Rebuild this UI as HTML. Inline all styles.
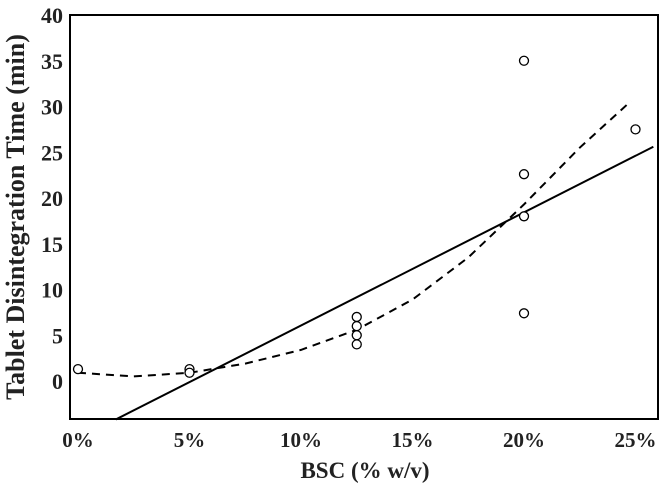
<!DOCTYPE html>
<html><head><meta charset="utf-8"><style>
html,body{margin:0;padding:0;background:#fff;}
svg{display:block;font-family:"Liberation Serif",serif;font-weight:bold;}
</style></head><body>
<svg id="chart" width="665" height="495">
<rect x="70" y="15" width="588" height="404" fill="none" stroke="#000" stroke-width="2"/>
<g id="yticks"></g>
<g id="xticks"></g>
<g id="marks"></g>
<text x="24" y="217" transform="rotate(-90 24 217)" text-anchor="middle" font-size="26" fill="#222">Tablet Disintegration Time (min)</text>
<text x="365" y="478" text-anchor="middle" font-size="23" fill="#222">BSC (% w/v)</text>
</svg>
<script>
const yTicks=[0,5,10,15,20,25,30,35,40];
const xTicks=[0,5,10,15,20,25];
const xTickLabels=["0%","5%","10%","15%","20%","25%"];
const pointX=[0,5,5,12.5,12.5,12.5,12.5,20,20,20,20,25];
const pointY=[1.3,1.3,0.9,7,6,5,4,35,22.6,18,7.4,27.5];
const linearX=[1.7,25.8];
const linearY=[-4.2,25.6];
const curveX=[0,2.5,5,7.5,10,12.5,15,17.5,20,22.5,24.8];
const curveY=[0.9,0.5,0.9,1.9,3.4,5.6,8.9,13.5,19.3,25.5,30.6];
const NS="http://www.w3.org/2000/svg";
function sx(v){return 78+22.3*v;}
function sy(v){return 381-9.15*v;}
function mk(tag,attrs,parent){const e=document.createElementNS(NS,tag);for(const k in attrs)e.setAttribute(k,attrs[k]);parent.appendChild(e);return e;}
const yg=document.getElementById('yticks'),xg=document.getElementById('xticks'),mg=document.getElementById('marks');
yTicks.forEach(v=>{const t=mk('text',{x:63,y:sy(v)+8,'text-anchor':'end','font-size':22,fill:'#222'},yg);t.textContent=v;

});
xTicks.forEach((v,i)=>{const t=mk('text',{x:sx(v),y:447,'text-anchor':'middle','font-size':21,fill:'#222'},xg);t.textContent=xTickLabels[i];

});
const lin=mk('line',{x1:sx(linearX[0]),y1:sy(linearY[0]),x2:sx(linearX[1]),y2:sy(linearY[1]),stroke:'#000','stroke-width':2},mg);


const cur=mk('polyline',{points:curveX.map((x,i)=>sx(x)+','+sy(curveY[i])).join(' '),fill:'none',stroke:'#000','stroke-width':2,'stroke-dasharray':'8,6'},mg);


pointX.forEach((x,i)=>{const c=mk('circle',{cx:sx(x),cy:sy(pointY[i]),r:4.5,fill:'#fff',stroke:'#000','stroke-width':1.3},mg);

});
</script>
</body></html>
